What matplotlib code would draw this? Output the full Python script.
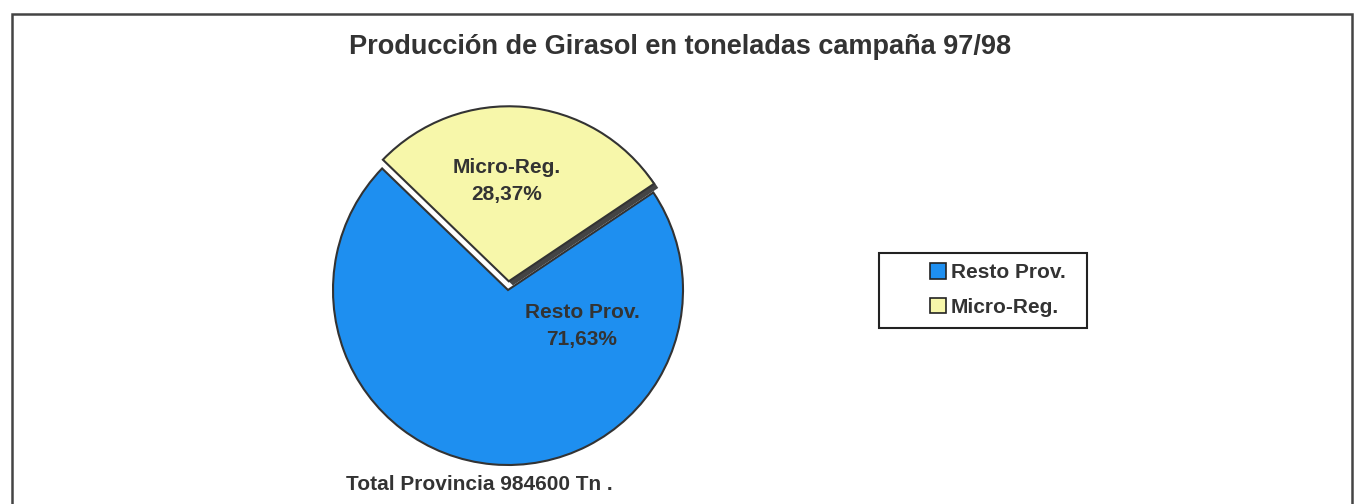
import matplotlib.pyplot as plt
import matplotlib.patheffects as pe
from matplotlib.patches import Rectangle, Patch

# data
categories = ["Resto Prov.", "Micro-Reg."]
shares = [71.63, 28.37]
colors = ["#1e8ff0", "#f7f7aa"]
title = "Producción de Girasol en toneladas campaña 97/98"
footer = "Total Provincia 984600 Tn ."

plt.rcParams["font.family"] = ["Liberation Sans", "DejaVu Sans"]
W, H = 1361, 504
fig = plt.figure(figsize=(W / 100, H / 100), dpi=100)
txt = "#333333"

# outer frame (bottom edge runs off the picture)
fig.patches.append(Rectangle((12 / W, -0.05), 1340 / W, 1.05 - 14 / H,
                             transform=fig.transFigure, fill=False,
                             edgecolor="#444444", linewidth=1.8))

fig.text(680 / W, 1 - 47 / H, title, ha="center", va="center",
         fontsize=19.5, fontweight="bold", color=txt)

# pie axes: centre ~ (508, 290) px, radius ~175 px
R = 175
half = 200
ax = fig.add_axes([(508 - half) / W, (H - 290 - half) / H, 2 * half / W, 2 * half / H])
wedges, _ = ax.pie(shares, colors=colors, startangle=136, explode=[0, 0.05],
                   wedgeprops=dict(edgecolor="#333333", linewidth=1.5))
wedges[1].set_path_effects([pe.SimplePatchShadow(offset=(3, -3), shadow_rgbFace="#444444", alpha=1.0),
                            pe.Normal()])
lim = half / R
ax.set_xlim(-lim, lim)
ax.set_ylim(-lim, lim)
ax.set_aspect("equal")
ax.axis("off")

labels = [f"{c}\n" + f"{s:.2f}".replace(".", ",") + "%" for c, s in zip(categories, shares)]
ax.text(74 / R, -36 / R, labels[0], ha="center", va="center", fontsize=15,
        fontweight="bold", color=txt, linespacing=1.55)
ax.text(-1 / R, 109 / R, labels[1], ha="center", va="center", fontsize=15,
        fontweight="bold", color=txt, linespacing=1.55)

fig.text(479 / W, 1 - 485 / H, footer, ha="center", va="center",
         fontsize=15, fontweight="bold", color=txt)

# legend box drawn separately to match its size
fig.patches.append(Rectangle((879 / W, 1 - 328 / H), 208 / W, 75 / H,
                             transform=fig.transFigure, fill=False,
                             edgecolor="#222222", linewidth=1.5))
handles = [Patch(facecolor=c, edgecolor="#222222", linewidth=1.2) for c in colors]
leg = fig.legend(handles, categories, loc="center", bbox_to_anchor=(998 / W, 1 - 290 / H),
                 frameon=False, fontsize=15, handlelength=0.75, handleheight=0.75,
                 handletextpad=0.25, labelspacing=0.75, borderaxespad=0)
for t in leg.get_texts():
    t.set_color(txt)
    t.set_fontweight("bold")

fig.savefig("out.png", dpi=100)
